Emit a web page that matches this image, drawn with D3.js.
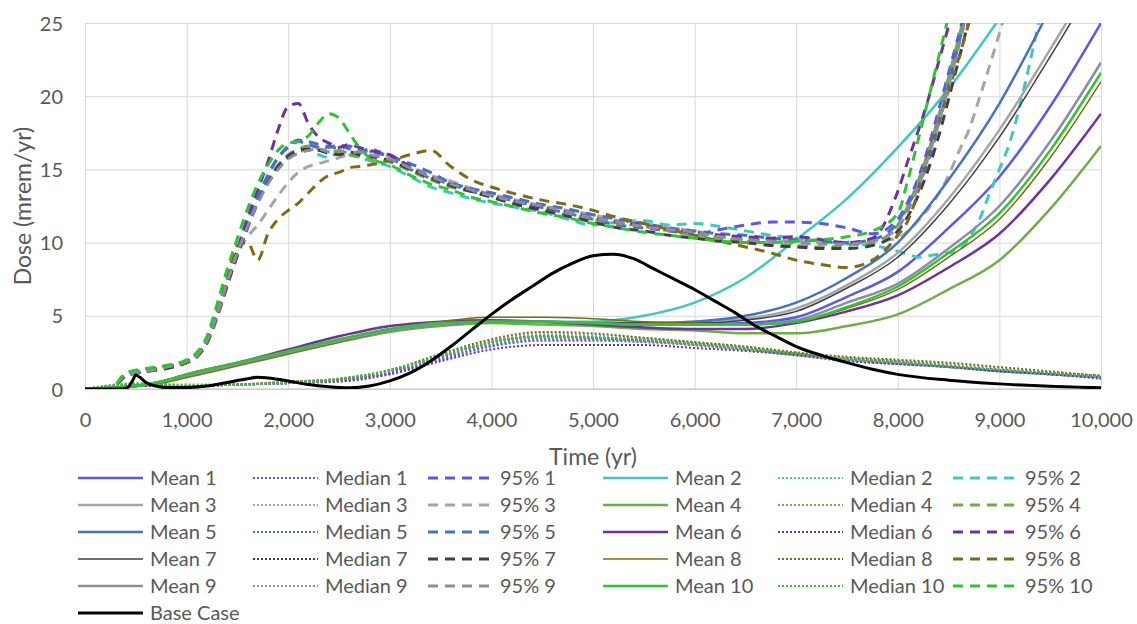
<!DOCTYPE html>
<html><head><meta charset="utf-8">
<script src="https://cdn.jsdelivr.net/npm/d3@7"></script>
<style>
body{margin:0;background:#fff}
svg text{font-family:Lato,"Open Sans",sans-serif;fill:#595959}
</style>
</head><body>
<svg id="chart" width="1137" height="624"></svg>
<script>
// ---------- data ----------
const xTicks = [0,1000,2000,3000,4000,5000,6000,7000,8000,9000,10000];
const yTicks = [0,5,10,15,20,25];
const setNames = ["1","2","3","4","5","6","7","8","9","10"];
const setColors = ["#5b57f2","#3cc8c4","#a5a5a5","#70ad47","#4472c4","#7030a0","#404040","#806a12","#8c8ca8","#2ec52e"];

const meanTime = [0,500,750,1000,1500,2000,2500,3000,3500,4000,4500,5000,5500,6000,6500,7000,7500,8000,8500,9000,9500,10000];
const mean1  = [0,0.2,0.5,0.9,1.7,2.5,3.3,4.0,4.4,4.6,4.6,4.5,4.4,4.4,4.5,4.9,6.3,8.0,11.0,14.5,19.3,25.0];
const mean2  = [0,0.2,0.5,0.9,1.7,2.5,3.3,4.0,4.4,4.6,4.6,4.6,5.0,5.9,7.6,10.2,13.0,16.5,20.5,25.3,30.5,36.5];
const mean3  = [0,0.2,0.5,0.9,1.7,2.5,3.3,4.0,4.4,4.6,4.6,4.5,4.5,4.6,4.8,5.5,7.1,9.3,13.0,17.7,23.2,29.0];
const mean4  = [0,0.2,0.4,0.8,1.6,2.4,3.2,3.9,4.3,4.5,4.4,4.3,4.1,4.0,3.8,3.8,4.3,5.1,6.8,8.8,12.3,16.6];
const mean5  = [0,0.2,0.5,0.9,1.7,2.5,3.3,4.0,4.4,4.6,4.6,4.5,4.5,4.6,5.0,5.9,7.6,10.0,14.3,19.5,26.0,33.0];
const mean6  = [0,0.2,0.5,1.0,1.8,2.7,3.6,4.3,4.6,4.7,4.6,4.4,4.2,4.1,4.1,4.5,5.3,6.4,8.3,10.6,14.3,18.8];
const mean7  = [0,0.2,0.5,0.9,1.7,2.5,3.3,4.0,4.4,4.6,4.6,4.5,4.5,4.5,4.7,5.3,6.9,9.0,12.6,17.2,22.7,28.5];
const mean8  = [0,0.2,0.4,0.8,1.6,2.4,3.2,4.0,4.6,4.9,4.9,4.8,4.6,4.5,4.4,4.6,5.5,6.8,9.0,11.6,15.8,21.0];
const mean9  = [0,0.2,0.5,0.9,1.7,2.5,3.3,4.0,4.4,4.6,4.6,4.5,4.4,4.4,4.4,4.7,5.9,7.2,9.6,12.5,16.9,22.3];
const mean10 = [0,0.2,0.5,1.0,1.8,2.6,3.4,4.1,4.5,4.6,4.6,4.5,4.4,4.4,4.4,4.6,5.6,7.0,9.3,12.0,16.3,21.6];

const medianTime = [0,500,1000,1500,2000,2500,3000,3500,4000,4500,5000,5500,6000,6500,7000,7500,8000,8500,9000,9500,10000];
const median1  = [0,0.2,0.2,0.3,0.4,0.6,1.1,2.0,2.9,3.3,3.3,3.2,3.0,2.7,2.4,2.0,1.8,1.5,1.3,1.0,0.8];
const median2  = [0,0.3,0.2,0.3,0.4,0.6,1.2,2.3,3.2,3.7,3.6,3.4,3.1,2.8,2.4,2.1,1.8,1.5,1.2,1.0,0.8];
const median3  = [0,0.3,0.2,0.3,0.5,0.7,1.3,2.3,3.3,3.8,3.7,3.5,3.2,2.9,2.5,2.1,1.9,1.7,1.4,1.1,0.9];
const median4  = [0,0.3,0.2,0.3,0.4,0.6,1.2,2.2,3.1,3.5,3.4,3.3,3.1,2.7,2.3,2.0,1.8,1.5,1.3,1.0,0.8];
const median5  = [0,0.2,0.2,0.3,0.4,0.6,1.1,2.1,3.0,3.4,3.4,3.3,3.0,2.7,2.4,2.0,1.7,1.5,1.2,1.0,0.8];
const median6  = [0,0.2,0.2,0.3,0.4,0.5,1.0,1.9,2.7,3.0,3.0,3.0,2.8,2.6,2.3,1.9,1.7,1.5,1.2,1.0,0.7];
const median7  = [0,0.3,0.2,0.3,0.4,0.6,1.2,2.2,3.2,3.6,3.5,3.3,3.1,2.8,2.4,2.1,1.9,1.6,1.3,1.1,0.9];
const median8  = [0,0.3,0.2,0.3,0.5,0.7,1.3,2.4,3.4,3.9,3.8,3.5,3.2,2.9,2.5,2.2,2.0,1.8,1.5,1.2,0.9];
const median9  = [0,0.3,0.2,0.3,0.4,0.6,1.2,2.2,3.1,3.5,3.5,3.3,3.0,2.7,2.4,2.0,1.8,1.5,1.3,1.0,0.8];
const median10 = [0,0.4,0.3,0.3,0.5,0.7,1.3,2.3,3.2,3.6,3.5,3.4,3.1,2.8,2.4,2.1,1.9,1.6,1.3,1.1,0.9];

const p95Time = [0,250,400,600,800,1000,1100,1200,1300,1400,
  1500,1600,1700,1800,1900,2000,2100,2200,2300,2400,
  2500,2600,2700,2800,3000,3200,3400,3600,3800,4000,
  4250,4500,4750,5000,5250,5500,5750,6000,6250,6500,
  6750,7000,7250,7500,7750,8000,8100,8200,8300,8400,
  8500,8600,8700,8800,8900,9000,9100,9200,9300,9400];
const p95_1 = [0,0,0.9,1.2,1.5,1.9,2.2,3.2,5.0,7.2,
  9.2,11.3,13.1,14.6,15.8,16.5,16.9,16.7,16.5,16.6,
  16.4,16.6,16.2,16.4,15.8,15.0,14.4,14.0,13.5,13.2,
  12.8,12.4,12.0,11.6,11.2,11.0,10.8,10.6,10.9,11.2,
  11.4,11.4,11.3,11.0,10.6,11.6,12.8,14.4,16.5,19.0,
  21.6,24.2,27.0,null,null,null,null,null,null,null];
const p95_2 = [0,0,1.0,1.3,1.5,1.8,2.3,3.4,5.4,7.6,
  9.6,11.6,13.2,14.4,15.2,15.8,16.2,16.3,16.0,15.8,
  16.2,16.0,15.8,15.6,15.2,14.5,13.8,13.4,13.0,12.7,
  12.4,12.1,11.6,11.2,11.4,11.5,11.2,11.3,11.1,10.8,
  10.5,10.3,10.1,9.9,9.8,9.4,9.2,9.0,9.1,9.2,
  9.3,9.5,10.3,11.5,13.3,15.0,16.8,19.3,22.3,25.5];
const p95_3 = [0,0,0.9,1.2,1.4,1.8,2.2,3.1,4.8,7.0,
  9.2,10.4,11.2,12.2,13.2,14.1,14.8,15.2,15.4,15.6,
  15.8,16.0,16.1,16.2,15.9,15.2,14.6,14.2,13.7,13.3,
  12.9,12.5,12.2,11.9,11.5,11.3,11.0,10.8,10.5,10.3,
  10.2,10.1,10.0,10.0,10.1,10.3,10.8,11.5,12.3,13.3,
  14.6,16.2,17.7,19.8,22.0,24.3,26.6,null,null,null];
const p95_4 = [0,0,1.0,1.3,1.6,1.9,2.4,3.4,5.3,7.4,
  9.4,11.1,12.8,14.2,15.3,16.0,16.4,16.6,16.4,16.3,
  16.2,16.0,15.9,15.7,15.5,14.9,14.3,13.8,13.5,13.1,
  12.7,12.3,11.9,11.6,11.3,11.1,10.8,10.5,10.3,10.1,
  9.9,9.8,9.7,9.8,10.0,11.2,12.5,14.2,16.2,18.6,
  21.3,24.0,26.8,null,null,null,null,null,null,null];
const p95_5 = [0,0,1.0,1.3,1.5,1.9,2.3,3.3,5.2,7.3,
  9.3,11.2,13.0,14.6,15.8,16.6,17.0,16.9,16.7,16.5,
  16.7,16.4,16.3,16.2,15.9,15.4,14.8,14.1,13.7,13.4,
  13.0,12.6,12.3,11.9,11.6,11.3,11.0,10.8,10.6,10.5,
  10.3,10.2,10.1,10.0,10.2,11.4,12.6,13.8,15.6,18.0,
  20.8,23.6,26.5,null,null,null,null,null,null,null];
const p95_6 = [0,0,0.9,1.2,1.5,1.9,2.3,3.3,5.1,7.3,
  9.5,11.7,13.6,15.5,17.7,19.3,19.5,18.1,17.2,16.8,
  16.5,16.7,16.5,16.3,16.0,15.2,14.5,14.0,13.6,13.2,
  12.8,12.4,12.1,11.7,11.4,11.2,10.9,10.7,10.5,10.4,
  10.3,10.4,10.2,10.0,10.3,13.5,15.6,17.6,19.8,22.3,
  24.8,27.5,null,null,null,null,null,null,null,null];
const p95_7 = [0,0,0.9,1.2,1.4,1.8,2.2,3.2,5.0,7.1,
  9.1,11.0,12.7,14.1,15.2,15.9,16.3,16.4,16.3,16.1,
  16.0,16.2,16.0,15.9,15.6,15.0,14.4,13.9,13.5,13.1,
  12.6,12.2,11.8,11.4,11.0,10.8,10.5,10.3,10.1,10.0,
  9.8,9.7,9.6,9.6,9.8,10.8,11.8,13.2,15.0,17.2,
  19.8,22.5,25.2,28.0,null,null,null,null,null,null];
const p95_8 = [0,0,0.9,1.2,1.5,1.8,2.2,3.1,5.0,7.5,
  9.8,10.0,8.8,10.6,11.6,12.2,12.7,13.4,14.1,14.6,
  14.8,15.1,15.2,15.3,15.6,16.0,16.3,15.2,14.3,13.8,
  13.3,12.9,12.6,12.2,11.7,11.3,10.9,10.5,10.1,9.7,
  9.3,8.8,8.5,8.3,8.8,10.5,11.5,13.5,16.0,18.2,
  20.4,22.6,25.0,27.5,null,null,null,null,null,null];
const p95_9 = [0,0,1.0,1.2,1.5,1.9,2.3,3.3,5.1,7.3,
  9.3,11.1,12.7,14.0,15.0,15.7,16.1,16.3,16.4,16.2,
  16.3,16.1,16.2,16.0,15.7,15.1,14.5,14.0,13.6,13.2,
  12.8,12.5,12.1,11.7,11.4,11.1,10.9,10.7,10.4,10.2,
  10.1,10.0,9.9,9.9,10.1,11.0,12.2,13.8,15.8,18.1,
  20.7,23.4,26.2,null,null,null,null,null,null,null];
const p95_10 = [0,0,1.1,1.4,1.6,2.0,2.5,3.6,5.8,8.2,
  10.3,12.3,14.0,15.3,16.3,16.8,16.9,17.3,18.2,18.8,
  18.5,17.5,16.5,15.8,15.3,14.6,14.0,13.6,13.1,12.8,
  12.4,12.0,11.7,11.3,11.0,10.7,10.5,10.3,10.1,10.0,
  10.0,10.1,10.2,10.4,10.8,12.0,14.3,17.0,19.8,22.6,
  25.5,28.5,null,null,null,null,null,null,null,null];

const baseTime = [0,350,420,470,500,540,600,700,800,1000,
  1200,1400,1600,1700,1800,2000,2200,2400,2600,2800,
  3000,3200,3400,3600,3800,4000,4200,4400,4600,4800,
  5000,5200,5400,5600,5800,6000,6200,6400,6600,6800,
  7000,7250,7500,7750,8000,8500,9000,9500,10000];
const baseCase = [0,0,0.1,0.6,0.95,0.8,0.45,0.2,0.1,0.1,
  0.2,0.45,0.7,0.8,0.75,0.55,0.3,0.15,0.08,0.2,
  0.55,1.1,1.9,2.9,4.0,5.1,6.1,7.0,7.9,8.6,
  9.1,9.2,8.9,8.2,7.5,6.8,6.0,5.2,4.3,3.6,
  2.9,2.3,1.8,1.35,1.0,0.6,0.35,0.18,0.08];

const meanValues = [mean1,mean2,mean3,mean4,mean5,mean6,mean7,mean8,mean9,mean10];
const medianValues = [median1,median2,median3,median4,median5,median6,median7,median8,median9,median10];
const p95Values = [p95_1,p95_2,p95_3,p95_4,p95_5,p95_6,p95_7,p95_8,p95_9,p95_10];

// ---------- series table ----------
const thinMeans = new Set([6,7]); // Mean 7, Mean 8 drawn thin
const series = [];
setNames.forEach((n,i)=>{
  series.push({name:"Mean "+n, t:meanTime, v:meanValues[i], color:setColors[i], w: thinMeans.has(i)?1.5:2.5, dash:null});
  series.push({name:"Median "+n, t:medianTime, v:medianValues[i], color:setColors[i], w:2, dash:"2,2"});
  series.push({name:"95% "+n, t:p95Time, v:p95Values[i], color:setColors[i], w:3, dash:"10,7"});
});
series.push({name:"Base Case", t:baseTime, v:baseCase, color:"#000000", w:3, dash:null});

// ---------- layout ----------
const svg = d3.select("#chart");
const X0 = 85, X1 = 1101, Y0 = 389, Y1 = 23;
const x = d3.scaleLinear().domain([0,10000]).range([X0,X1]);
const y = d3.scaleLinear().domain([0,25]).range([Y0,Y1]);

svg.append("defs").append("clipPath").attr("id","plotclip")
  .append("rect").attr("x",X0).attr("y",Y1).attr("width",X1-X0).attr("height",Y0-Y1);

// gridlines
const gx = svg.append("g").attr("transform",`translate(0,${Y0})`)
  .call(d3.axisBottom(x).tickValues(xTicks).tickSize(-(Y0-Y1)).tickFormat(""));
gx.select(".domain").remove();
gx.selectAll("line").attr("stroke","#d9d9d9").attr("stroke-width",1);
const gy = svg.append("g").attr("transform",`translate(${X0},0)`)
  .call(d3.axisLeft(y).tickValues(yTicks).tickSize(-(X1-X0)).tickFormat(""));
gy.select(".domain").remove();
gy.selectAll("line").attr("stroke","#d9d9d9").attr("stroke-width",1);
svg.append("line").attr("x1",X0).attr("x2",X1).attr("y1",y(0)).attr("y2",y(0))
  .attr("stroke","#bfbfbf").attr("stroke-width",1);

// tick labels
const ax = svg.append("g").attr("transform",`translate(0,${Y0})`)
  .call(d3.axisBottom(x).tickValues(xTicks).tickSize(0).tickPadding(0).tickFormat(d3.format(",")));
ax.select(".domain").remove();
ax.selectAll("text").attr("y",31).attr("dy","0.35em").style("font-size","20px").style("font-family","Lato, sans-serif").attr("fill","#595959");
const ay = svg.append("g").attr("transform",`translate(${X0},0)`)
  .call(d3.axisLeft(y).tickValues(yTicks).tickSize(0).tickPadding(0));
ay.select(".domain").remove();
ay.selectAll("text").attr("x",-22).attr("dy","0.35em").style("font-size","20px").style("font-family","Lato, sans-serif").attr("fill","#595959");

// axis titles
svg.append("text").attr("x",(X0+X1)/2).attr("y",457).attr("dy","0.35em")
  .attr("text-anchor","middle").style("font-size","23px").text("Time (yr)");
svg.append("text").attr("transform",`translate(23,${(Y0+Y1)/2}) rotate(-90)`).attr("dy","0.35em")
  .attr("text-anchor","middle").style("font-size","23px").text("Dose (mrem/yr)");

// lines
const plot = svg.append("g").attr("clip-path","url(#plotclip)");
series.forEach(s=>{
  const pts = s.t.map((t,i)=>[t,s.v[i]]);
  const line = d3.line().defined(d=>d[1]!==null).x(d=>x(d[0])).y(d=>y(d[1])).curve(d3.curveMonotoneX);
  plot.append("path").datum(pts).attr("d",line)
    .attr("fill","none").attr("stroke",s.color).attr("stroke-width",s.w)
    .attr("stroke-dasharray",s.dash).attr("stroke-linejoin","round");
});

// legend
const legX0 = 78, legDX = 175, legY0 = 478, legDY = 27;
const leg = svg.append("g");
series.forEach((s,j)=>{
  const row = Math.floor(j/6), col = j%6;
  const lx = legX0 + col*legDX, ly = legY0 + row*legDY;
  leg.append("line").attr("x1",lx).attr("x2",lx+65).attr("y1",ly).attr("y2",ly)
    .attr("stroke",s.color).attr("stroke-width",s.w).attr("stroke-dasharray",s.dash);
  leg.append("text").attr("x",lx+72).attr("y",ly).attr("dy","0.35em")
    .style("font-size","20px").text(s.name);
});
</script>
</body></html>
